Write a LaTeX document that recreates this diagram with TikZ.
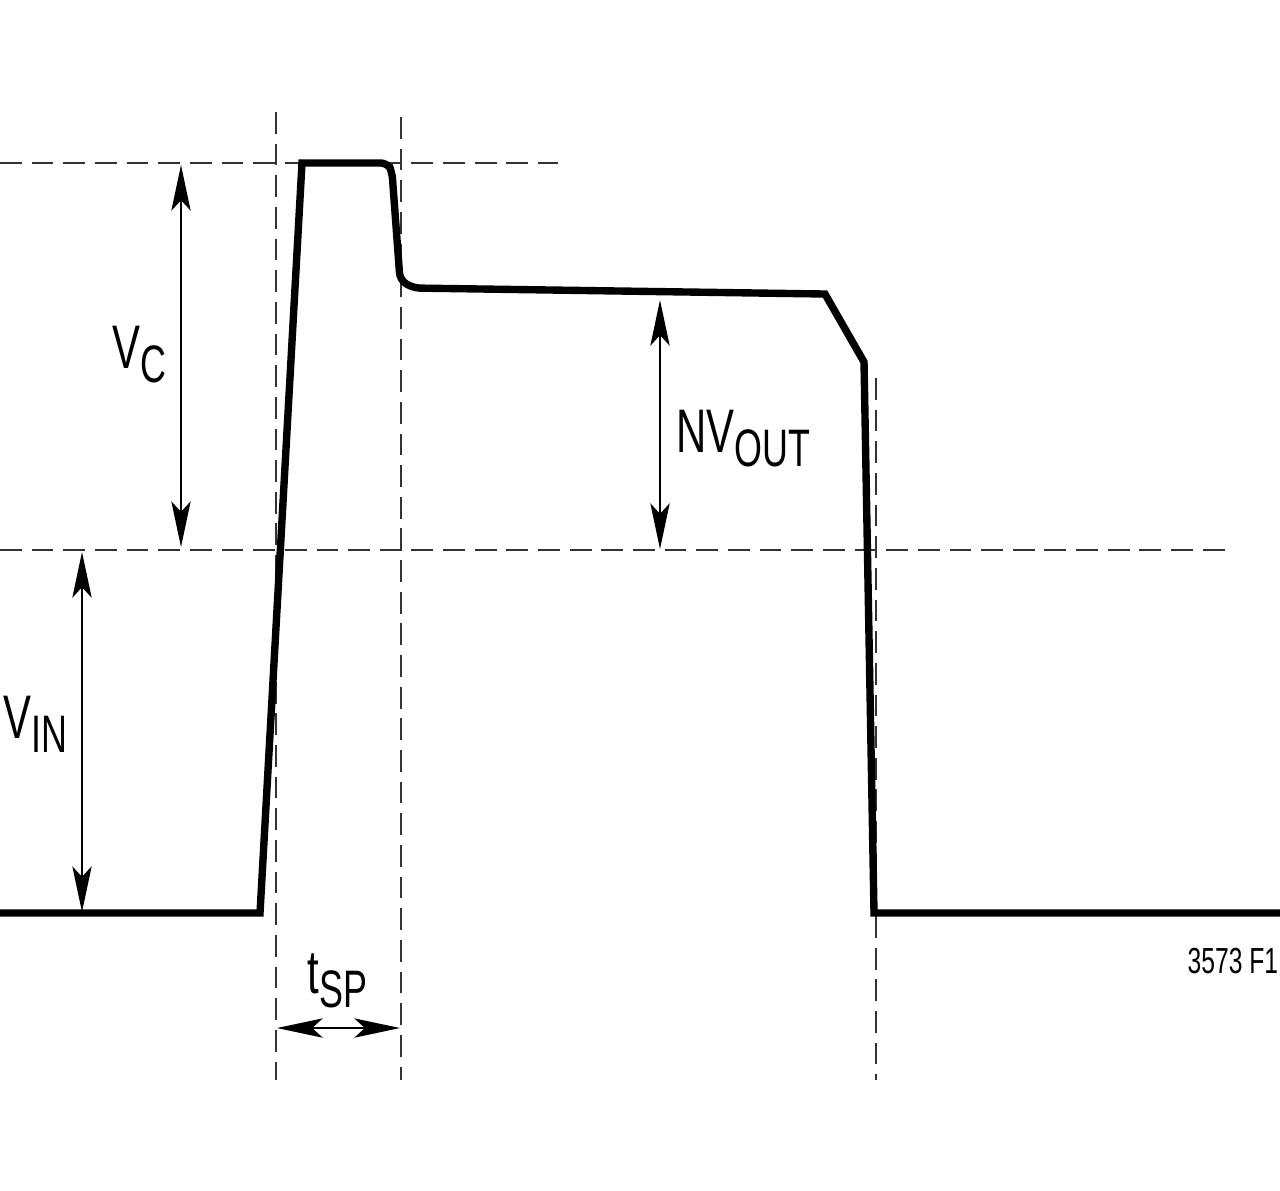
\documentclass[tikz,border=0pt]{standalone}
\usepackage{fontspec}
\setmainfont{Liberation Sans}[FakeStretch=0.68]
\usetikzlibrary{arrows.meta}
\newcommand{\sublbl}[2]{#1\raisebox{-4.2pt}{\fontsize{15}{15}\selectfont #2}}
\begin{document}
\begin{tikzpicture}[x=0.01cm,y=-0.01cm]
\tikzset{
  wave/.style={line width=2.1pt, line join=miter},
  guide/.style={line width=0.6pt, dash pattern=on 6.2pt off 2.8pt, black!80},
  dim/.style={line width=0.5pt, {Stealth[length=13pt,width=5.5pt,inset=3pt]}-{Stealth[length=13pt,width=5.5pt,inset=3pt]}},
  lab/.style={font=\fontsize{17.5}{20}\selectfont, inner sep=0pt, anchor=base west},
  small/.style={font=\fontsize{10.3}{12}\selectfont, inner sep=0pt, anchor=base west}
}
\fill[white] (0,0) rectangle (1280,1190);
\useasboundingbox (0,0) rectangle (1280,1190);

% guide lines
\coordinate (topL) at (0,163);
\coordinate (topR) at (558,163);
\coordinate (midL) at (0,550);
\coordinate (midR) at (1230,550);
\coordinate (v1t) at (276,112);
\coordinate (v1b) at (276,1080);
\coordinate (v2t) at (401,117);
\coordinate (v2b) at (401,1080);
\coordinate (v3t) at (876,378);
\coordinate (v3b) at (876,1080);
\draw[guide] (topL) -- (topR);
\draw[guide] (midL) -- (midR);
\draw[guide] (v1t) -- (v1b);
\draw[guide] (v2t) -- (v2b);
\draw[guide] (v3t) -- (v3b);

% waveform
\draw[wave] (0,913) -- (260,913) -- (302,163)
  [rounded corners=2pt] -- (388,163) -- (392,172) -- (400,280) -- (413,288)
  [sharp corners] -- (825,294) -- (864,362) -- (874,913) -- (1280,913);

% dimension arrows
\coordinate (vcT) at (181,165);
\coordinate (vcB) at (181,547);
\coordinate (noT) at (660,300);
\coordinate (noB) at (660,549);
\coordinate (viT) at (82,552);
\coordinate (viB) at (82,912);
\coordinate (tsL) at (277,1028);
\coordinate (tsR) at (400,1028);
\draw[dim] (vcT) -- (vcB);
\draw[dim] (noT) -- (noB);
\draw[dim] (viT) -- (viB);
\draw[dim] (tsL) -- (tsR);

% labels
\node[lab] (vc) at (112,368) {\sublbl{V}{C}};
\node[lab] (nvout) at (676,452) {\sublbl{NV}{OUT}};
\node[lab] (vin) at (3,738) {\sublbl{V}{IN}};
\node[lab] (tsp) at (307,993) {\sublbl{t}{SP}};
\node[small] (fig) at (1187,973) {3573 F1};
\end{tikzpicture}
\end{document}
